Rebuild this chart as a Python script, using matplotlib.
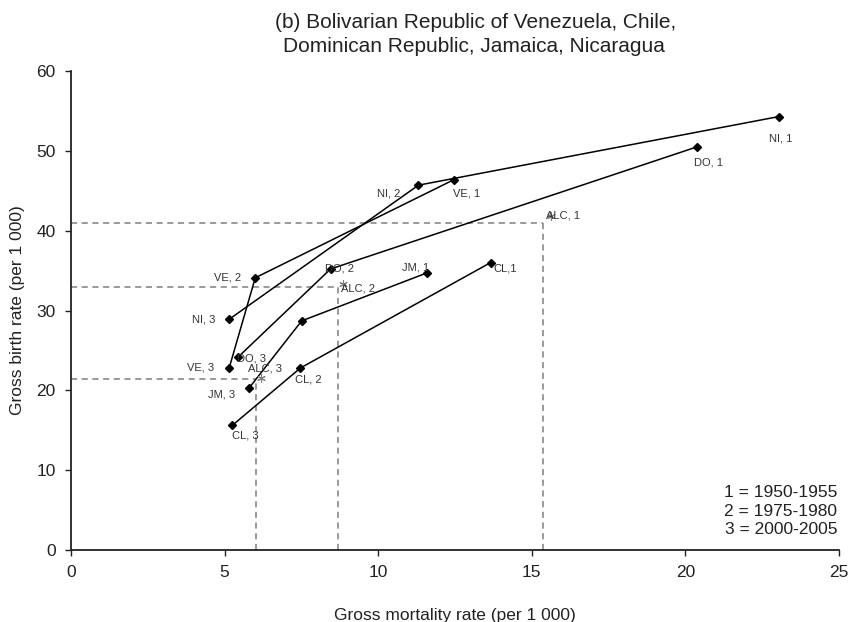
import matplotlib
matplotlib.use("Agg")
import matplotlib.pyplot as plt

plt.rcParams['font.family'] = ['Liberation Sans', 'DejaVu Sans']

countries = ["NI", "VE", "DO", "JM", "CL"]
mortality = {
    "NI": [23.05, 11.31, 5.15],
    "VE": [12.47, 6.00, 5.15],
    "DO": [20.38, 8.45, 5.45],
    "JM": [11.58, 7.51, 5.80],
    "CL": [13.66, 7.47, 5.25],
}
birth = {
    "NI": [54.3, 45.7, 28.9],
    "VE": [46.4, 34.1, 22.8],
    "DO": [50.5, 35.2, 24.2],
    "JM": [34.7, 28.7, 20.3],
    "CL": [36.0, 22.8, 15.6],
}
# ALC (Latin America & Caribbean) reference lines and marker positions
alc_line_mortality = [15.35, 8.70, 6.02]
alc_line_birth = [40.9, 32.9, 21.4]
alc_mortality = [15.62, 8.86, 6.18]
alc_birth = [41.9, 33.3, 21.5]
period_labels = ["1 = 1950-1955", "2 = 1975-1980", "3 = 2000-2005"]

# label offsets (points) and alignment for each point
label_style = {
    ("NI", 0): ((-7, -16), "left", "center", "NI, 1"),
    ("NI", 1): ((-13, -6), "right", "center", "NI, 2"),
    ("NI", 2): ((-10, 0), "right", "center", "NI, 3"),
    ("VE", 0): ((-1, -10), "left", "center", "VE, 1"),
    ("VE", 1): ((-10, 0), "right", "center", "VE, 2"),
    ("VE", 2): ((-11, 0), "right", "center", "VE, 3"),
    ("DO", 0): ((-2, -11), "left", "center", "DO, 1"),
    ("DO", 1): ((-4, 0), "left", "center", "DO, 2"),
    ("DO", 2): ((-1, -1.5), "left", "center", "DO, 3"),
    ("JM", 0): ((2, 4), "right", "center", "JM, 1"),
    ("JM", 2): ((-10, -4.5), "right", "center", "JM, 3"),
    ("CL", 0): ((2, -4), "left", "center", "CL,1"),
    ("CL", 1): ((-4, -8), "left", "center", "CL, 2"),
    ("CL", 2): ((0, -7.5), "left", "center", "CL, 3"),
}
alc_label_style = [((-3.5, 0), "left", "center", "ALC, 1"),
                   ((-1.5, -3), "left", "center", "ALC, 2"),
                   ((-9.5, 7), "left", "center", "ALC, 3")]

fig = plt.figure(figsize=(8.5, 6.22), dpi=100)
ax = fig.add_axes([0.0835, 0.1158, 0.9035, 0.7700])

# dashed reference lines for ALC
for mx, by in zip(alc_line_mortality, alc_line_birth):
    ax.plot([0, mx], [by, by], ls=(0, (4, 3)), color="#7f7f7f", lw=1.1, zorder=1)
    ax.plot([mx, mx], [0, by], ls=(0, (4, 3)), color="#7f7f7f", lw=1.1, zorder=1)
ax.scatter(alc_mortality, alc_birth, marker=(6, 2, 0), s=30, color="#7f7f7f", lw=0.8, zorder=3)
for mx, by, (off, ha, va, txt) in zip(alc_mortality, alc_birth, alc_label_style):
    ax.annotate(txt, (mx, by), xytext=off, textcoords="offset points",
                ha=ha, va=va, fontsize=8, color="#333333")

for c in countries:
    ax.plot(mortality[c], birth[c], color="black", lw=1.1, marker="D",
            markersize=4.5, markerfacecolor="black", zorder=2)
    for i in range(3):
        key = (c, i)
        if key in label_style:
            off, ha, va, txt = label_style[key]
            ax.annotate(txt, (mortality[c][i], birth[c][i]), xytext=off,
                        textcoords="offset points", ha=ha, va=va,
                        fontsize=8, color="#333333")

ax.set_xlim(0, 25)
ax.set_ylim(0, 60)
ax.set_xticks([0, 5, 10, 15, 20, 25])
ax.set_yticks([0, 10, 20, 30, 40, 50, 60])
ax.tick_params(axis="both", direction="out", length=4, width=1, labelsize=12.5, pad=7,
               colors="#222222")
for s in ["top", "right"]:
    ax.spines[s].set_visible(False)
for s in ["left", "bottom"]:
    ax.spines[s].set_linewidth(1.3)
    ax.spines[s].set_color("#222222")

ax.set_xlabel("Gross mortality rate (per 1 000)", fontsize=12.5, labelpad=20, color="#222222")
ax.set_ylabel("Gross birth rate (per 1 000)", fontsize=12.5, labelpad=8, color="#222222")

fig.text(476 / 850, 1 - 23 / 622, "(b) Bolivarian Republic of Venezuela, Chile,",
         ha="center", va="center", fontsize=15, color="#222222")
fig.text(474 / 850, 1 - 47 / 622, "Dominican Republic, Jamaica, Nicaragua",
         ha="center", va="center", fontsize=15, color="#222222")

for k, t in enumerate(period_labels):
    ax.text(0.998, (550 - 493 - k * 18.5) / 479, t, transform=ax.transAxes, ha="right",
            va="center", fontsize=12.5, color="#222222")

fig.savefig("out.png", dpi=100)
